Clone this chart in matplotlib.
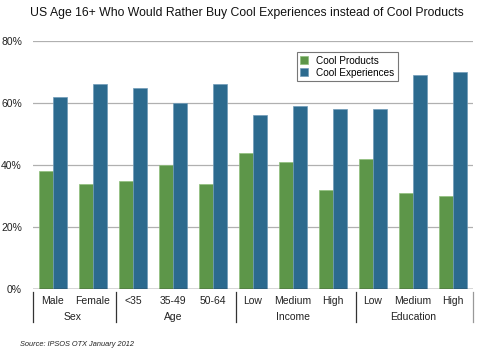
import matplotlib
matplotlib.use("Agg")
import matplotlib.pyplot as plt
import numpy as np

plt.rcParams['font.family'] = ['Liberation Sans', 'DejaVu Sans']

categories = ["Male", "Female", "<35", "35-49", "50-64", "Low", "Medium", "High", "Low", "Medium", "High"]
groups = ["Sex", "Age", "Income", "Education"]
group_sizes = [2, 3, 3, 3]
cool_products = [38, 34, 35, 40, 34, 44, 41, 32, 42, 31, 30]
cool_experiences = [62, 66, 65, 60, 66, 56, 59, 58, 58, 69, 70]
yticks = [0, 20, 40, 60, 80]
title = "US Age 16+ Who Would Rather Buy Cool Experiences instead of Cool Products"
source = "Source: IPSOS OTX January 2012"

W, H = 481, 353
fig = plt.figure(figsize=(W / 100, H / 100), dpi=100)
ax = fig.add_axes([33 / W, (H - 289) / H, (473 - 33) / W, (289 - 41) / H])

x = np.arange(len(categories))
bw = 0.34
green = "#5d9649"
blue = "#2c6a8e"
ax.bar(x - bw / 2, cool_products, bw, color=green, edgecolor="#8fbf7c", linewidth=0.5,
       label="Cool Products", zorder=3)
ax.bar(x + bw / 2, cool_experiences, bw, color=blue, edgecolor="#6f9bb8", linewidth=0.5,
       label="Cool Experiences", zorder=3)

ax.set_xlim(-0.5, len(categories) - 0.5)
ax.set_ylim(0, 80)
ax.set_yticks(yticks)
ax.set_yticklabels([f"{v}%" for v in yticks], fontsize=7.5, color="#222222")
for v in yticks[1:]:
    ax.axhline(v, color="#b0b0b0", linewidth=0.9, zorder=1)
ax.axhline(0, color="#333333", linewidth=1.0, zorder=4)
for s in ax.spines.values():
    s.set_visible(False)
ax.tick_params(axis='y', length=0, pad=8)
ax.tick_params(axis='x', length=0, pad=5)
ax.set_xticks(x)
ax.set_xticklabels(categories, fontsize=7.5, color="#222222")

# group separators and labels
trans = ax.get_xaxis_transform()
bounds = np.concatenate([[0], np.cumsum(group_sizes)]) - 0.5
for i, b in enumerate(bounds):
    col = "#999999" if i == len(bounds) - 1 else "#333333"
    ax.plot([b + (0.07 if 0 < i < len(bounds) - 1 else 0)] * 2, [-0.012, -0.135],
            transform=trans, color=col, linewidth=0.9, clip_on=False)
for i, g in enumerate(groups):
    c = (bounds[i] + bounds[i + 1]) / 2
    ax.text(c, -0.113, g, transform=trans, ha="center", va="center", fontsize=7.5, color="#222222")

leg = ax.legend(loc="upper left", bbox_to_anchor=((297 - 33) / 440, (289 - 52) / 248),
                fontsize=7.2, frameon=True, fancybox=False, handlelength=0.8, handleheight=0.8,
                handletextpad=0.8, borderpad=0.35, labelspacing=0.2, borderaxespad=0)
leg.get_frame().set_edgecolor("#555555")
leg.get_frame().set_linewidth(0.8)

fig.text(247 / W, 1 - 13 / H, title, ha="center", va="center", fontsize=8.85, color="#111111")
fig.text(20 / W, 1 - 344 / H, source, ha="left", va="center", fontsize=5.3, style="italic", color="#222222")

fig.savefig("out.png", dpi=100)
